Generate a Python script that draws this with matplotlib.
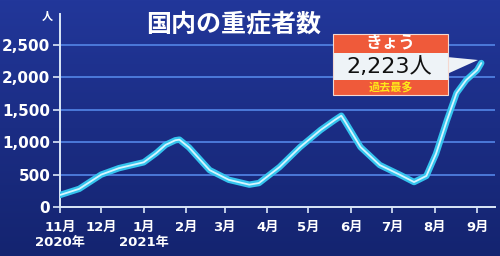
import numpy as np
import pandas as pd
import matplotlib
matplotlib.use("Agg")
import matplotlib.pyplot as plt
from matplotlib.patches import Rectangle, Polygon
from matplotlib.colors import LinearSegmentedColormap

plt.rcParams['font.family'] = ['DejaVu Sans', 'Noto Sans CJK JP']

# Datos (重症者数)
fechas = ['2020-11-01', '2020-11-15', '2020-12-01', '2020-12-14', '2021-01-01',
          '2021-01-10', '2021-01-17', '2021-01-24', '2021-01-27', '2021-02-03',
          '2021-02-18', '2021-03-04', '2021-03-19', '2021-03-26', '2021-04-10',
          '2021-04-25', '2021-05-10', '2021-05-20', '2021-05-25', '2021-05-28',
          '2021-06-08', '2021-06-22', '2021-07-07', '2021-07-17', '2021-07-26',
          '2021-08-02', '2021-08-10', '2021-08-17', '2021-08-24', '2021-09-01',
          '2021-09-04']
valores = [185, 280, 500, 600, 690,
           830, 960, 1030, 1040, 920,
           570, 420, 345, 370, 617,
           926, 1190, 1340, 1410, 1310,
           926, 648, 494, 385, 480,
           820, 1340, 1759, 1960, 2114,
           2223]

meses = ['2020-11-01', '2020-12-01', '2021-01-01', '2021-02-01', '2021-03-01',
         '2021-04-01', '2021-05-01', '2021-06-01', '2021-07-01', '2021-08-01',
         '2021-09-01']
etiquetas_mes = ['11月\n2020年', '12月\n ', '1月\n2021年', '2月\n ', '3月\n ', '4月\n ',
                 '5月\n ', '6月\n ', '7月\n ', '8月\n ', '9月\n ']
yticks = [0, 500, 1000, 1500, 2000, 2500]
etiquetas_y = ['0', '500', '1,000', '1,500', '2,000', '2,500']

W, H = 500, 256
fig = plt.figure(figsize=(W / 100, H / 100), dpi=100)

def px(x, y):
    return x / W, 1 - y / H

# Fondo azul con degradado
bg = fig.add_axes([0, 0, 1, 1], zorder=-10)
cmap = LinearSegmentedColormap.from_list('fondo', ['#22379a', '#1b2d84', '#142470'])
grad = np.linspace(0, 1, 256).reshape(-1, 1)
bg.imshow(grad, aspect='auto', cmap=cmap, extent=[0, 1, 0, 1])
bg.axis('off')

fechas_dt = pd.to_datetime(fechas)
meses_dt = pd.to_datetime(meses)

ax = fig.add_axes([60 / W, 49 / H, 435 / W, (207 - 14) / H])
ax.set_facecolor('none')
ax.plot(fechas_dt, valores, color='#35c4ee', lw=4.6, solid_capstyle='round', solid_joinstyle='round', zorder=3)
ax.plot(fechas_dt, valores, color='#d6f5ff', lw=1.3, solid_capstyle='round', solid_joinstyle='round', zorder=4)

ax.set_ylim(0, 2980)
ax.set_xlim(pd.Timestamp('2020-11-01'), pd.Timestamp('2021-09-14'))
for v in yticks[1:]:
    ax.axhline(v, color='#4f7fe0', lw=1.3, zorder=1)

ax.set_yticks(yticks)
ax.set_yticklabels(etiquetas_y)
ax.set_xticks(meses_dt)
ax.set_xticklabels(etiquetas_mes, linespacing=1.25)

for s in ['top', 'right']:
    ax.spines[s].set_visible(False)
for s in ['left', 'bottom']:
    ax.spines[s].set_color('#dce8f8')
    ax.spines[s].set_linewidth(1.4)

ax.tick_params(axis='y', colors='#dce8f8', length=5, width=1.2, pad=2,
               labelsize=11, labelcolor='white')
ax.tick_params(axis='x', colors='#dce8f8', length=4, width=1.2, pad=6,
               labelsize=9.5, labelcolor='white')
for t in ax.get_xticklabels() + ax.get_yticklabels():
    t.set_fontweight('bold')

fig.text(*px(47, 17), '人', color='white', fontsize=8, fontweight='bold', ha='center', va='center')

# Título
fig.text(*px(234, 25), '国内の重症者数', color='white', fontsize=18, fontweight='bold',
         ha='center', va='center')

# Recuadro de "きょう"
x0, x1 = 333, 448
def caja(y0, y1, color):
    fx, fy = px(x0, y1)
    fig.add_artist(Rectangle((fx, fy), (x1 - x0) / W, (y1 - y0) / H,
                             transform=fig.transFigure, facecolor=color, edgecolor='none', zorder=5))

caja(34, 53, '#ef5a3a')
caja(53, 80, '#eef3f7')
caja(80, 95, '#ef5a3a')
fig.add_artist(Polygon([px(447, 57), px(447, 74), px(478, 60)], closed=True,
                       transform=fig.transFigure, facecolor='#eef3f7', edgecolor='none', zorder=5))
fig.add_artist(Rectangle(px(x0, 95), (x1 - x0) / W, (95 - 34) / H, transform=fig.transFigure,
                         facecolor='none', edgecolor='#f4d8d0', lw=0.8, zorder=6))

fig.text(*px(391, 44), 'きょう', color='white', fontsize=12, fontweight='bold',
         ha='center', va='center', zorder=7)
fig.text(*px(389, 67), '2,223人', color='#111111', fontsize=16,
         ha='center', va='center', zorder=7)
fig.text(*px(391, 88), '過去最多', color='#ffe81a', fontsize=8, fontweight='bold',
         ha='center', va='center', zorder=7)

fig.savefig('out.png', dpi=100)
